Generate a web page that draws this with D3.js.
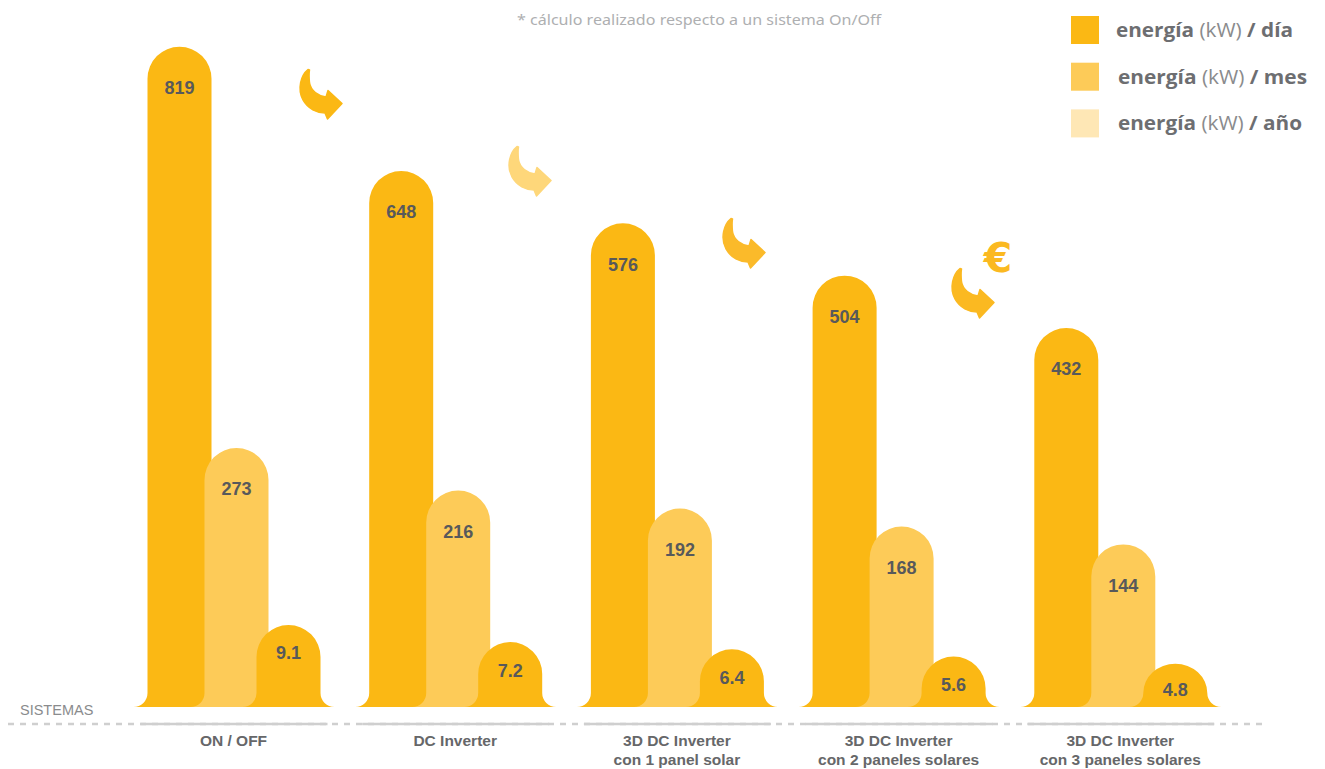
<!DOCTYPE html>
<html>
<head>
<meta charset="utf-8">
<script src="https://cdn.jsdelivr.net/npm/d3@7"></script>
<style>
  body { margin: 0; background: #fff; }
  svg { display: block; }
</style>
</head>
<body>
<div id="chart"></div>
<script>
// data
var categories = ["ON / OFF", "DC Inverter", "3D DC Inverter|con 1 panel solar",
                  "3D DC Inverter|con 2 paneles solares", "3D DC Inverter|con 3 paneles solares"];
var diaValues = [819, 648, 576, 504, 432];
var mesValues = [273, 216, 192, 168, 144];
var anoValues = [9.1, 7.2, 6.4, 5.6, 4.8];
var legendLabels = ["día", "mes", "año"];

var dark = "#fbb814", medium = "#fdcb58", light = "#fee7b5";

var width = 1325, height = 769,
    base = 707;

var svg = d3.select("#chart").append("svg")
    .attr("width", width)
    .attr("height", height);

// one band per system, series offset inside the band
var x = d3.scaleBand()
    .domain(categories)
    .range([147.5, 147.5 + 221.7 * categories.length]);

var xs = d3.scaleOrdinal()
    .domain([0, 1, 2])
    .range([0, 57, 109]);

// each series has its own vertical scale in the original design
var yScales = [
  d3.scaleLinear().domain([0, d3.max(diaValues)]).range([642, 46.7]),
  d3.scaleLinear().domain([0, d3.max(mesValues)]).range([652, 448]),
  d3.scaleLinear().domain([0, d3.max(anoValues)]).range([707, 625])
];
var seriesValues = [diaValues, mesValues, anoValues];
var seriesFill = [dark, medium, dark];

var barW = 64, flare = 14;

// bar with rounded cap and concave flares at the base
function bell(x0, top) {
  var h = base - top;
  var ry = Math.min(barW / 2, h - flare);
  var f = flare;
  return "M" + (x0 - f) + "," + base +
    "A" + f + "," + f + " 0 0 0 " + x0 + "," + (base - f) +
    "L" + x0 + "," + (top + ry) +
    "A" + (barW / 2) + "," + ry + " 0 0 1 " + (x0 + barW) + "," + (top + ry) +
    "L" + (x0 + barW) + "," + (base - f) +
    "A" + f + "," + f + " 0 0 0 " + (x0 + barW + f) + "," + base + "Z";
}

// axis lines
svg.append("line")
    .attr("x1", 8).attr("x2", 1262)
    .attr("y1", 724).attr("y2", 724)
    .attr("stroke", "#cfcfcf")
    .attr("stroke-width", 2.5)
    .attr("stroke-dasharray", "6,6");

var groups = svg.selectAll("g.group")
    .data(categories)
    .enter()
    .append("g")
    .attr("class", "group");

groups.append("line")
    .attr("x1", function(d) { return x(d) - 7; })
    .attr("x2", function(d) { return x(d) + 180; })
    .attr("y1", 724).attr("y2", 724)
    .attr("stroke", "#cfcfcf")
    .attr("stroke-width", 2.5);

groups.each(function(cat, i) {
  var g = d3.select(this);
  [0, 1, 2].forEach(function(s) {
    var v = seriesValues[s][i];
    var top = yScales[s](v);
    var x0 = x(cat) + xs(s);
    g.append("path")
        .attr("d", bell(x0, top))
        .attr("fill", seriesFill[s]);
    var off = s < 2 ? 41 : Math.min(28, (base - top) * 0.6);
    g.append("text")
        .attr("x", x0 + barW / 2)
        .attr("y", top + off)
        .attr("dy", "0.36em")
        .attr("text-anchor", "middle")
        .attr("font-family", "Liberation Sans, Arial, sans-serif")
        .attr("font-weight", "bold")
        .attr("font-size", "18px")
        .attr("fill", "#58595b")
        .text(v);
  });

  var lines = cat.split("|");
  var t = g.append("text")
      .attr("text-anchor", "middle")
      .attr("font-family", "Liberation Sans, Arial, sans-serif")
      .attr("font-weight", "bold")
      .attr("font-size", "15.5px")
      .attr("fill", "#666769");
  lines.forEach(function(l, k) {
    t.append("tspan")
        .attr("x", x(cat) + 86)
        .attr("y", 746 + k * 19)
        .text(l);
  });
});

svg.append("text")
    .attr("x", 20).attr("y", 715)
    .attr("font-family", "Liberation Sans, Arial, sans-serif")
    .attr("font-size", "14.5px")
    .attr("fill", "#8a8b8d")
    .text("SISTEMAS");

// note on top
svg.append("text")
    .attr("x", 517).attr("y", 25)
    .attr("font-family", "Noto Sans, sans-serif")
    .attr("font-style", "normal")
    .attr("font-size", "15px")
    .attr("fill", "#aeafb1")
    .attr("textLength", 364)
    .attr("lengthAdjust", "spacingAndGlyphs")
    .text("* cálculo realizado respecto a un sistema On/Off");

// legend
var legendFill = [dark, medium, light];
var legendWidths = [177, 189, 184];
var legend = svg.selectAll("g.legend")
    .data(legendLabels)
    .enter()
    .append("g")
    .attr("class", "legend")
    .attr("transform", function(d, i) { return "translate(1071," + (16 + i * 46.7) + ")"; });

legend.append("rect")
    .attr("width", 28).attr("height", 28)
    .attr("fill", function(d, i) { return legendFill[i]; });

var lt = legend.append("text")
    .attr("x", function(d, i) { return i === 0 ? 45 : 47; })
    .attr("y", 21)
    .attr("font-family", "Open Sans, sans-serif")
    .attr("font-size", "20px")
    .attr("fill", "#6d6e71")
    .attr("textLength", function(d, i) { return legendWidths[i]; })
    .attr("lengthAdjust", "spacingAndGlyphs");
lt.append("tspan").attr("font-weight", 700).text("energía ");
lt.append("tspan").attr("font-weight", 400).attr("fill", "#8a8b8d").text("(kW) ");
lt.append("tspan").attr("font-weight", 700).text(function(d) { return "/ " + d; });

// curved arrows between systems
var arrowPath = "M9,0.5 C2,6 -2,20 4,31 C9,40 18,44 26,44 L28.5,50 L43,34.5 L29,21.5 L27,28 " +
                "C19,27 12,22 10.5,14 C10,9 10,4 10.5,1 Z";
var arrows = [
  {x: 299, y: 69, fill: "#fbb814"},
  {x: 508, y: 146, fill: "#fed77a"},
  {x: 722, y: 218, fill: "#fbba2a"},
  {x: 951, y: 268, fill: "#fbb921"}
];
svg.selectAll("path.arrow")
    .data(arrows)
    .enter()
    .append("path")
    .attr("class", "arrow")
    .attr("d", arrowPath)
    .attr("transform", function(d) { return "translate(" + d.x + "," + d.y + ")"; })
    .attr("fill", function(d) { return d.fill; })
    .attr("stroke", function(d) { return d.fill; })
    .attr("stroke-width", 1.5)
    .attr("stroke-linejoin", "round");

svg.append("text")
    .attr("x", 998).attr("y", 272)
    .attr("text-anchor", "middle")
    .attr("font-family", "DejaVu Sans, sans-serif")
    .attr("font-weight", "bold")
    .attr("font-size", "41px")
    .attr("fill", "#fbb921")
    .text("€");
</script>
</body>
</html>
